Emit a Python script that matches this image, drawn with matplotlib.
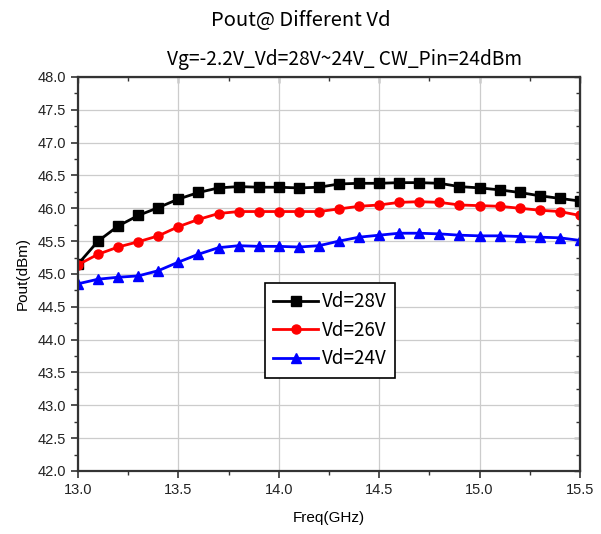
import numpy as np
import matplotlib.pyplot as plt
from matplotlib.ticker import MultipleLocator

freq = [13.0, 13.1, 13.2, 13.3, 13.4, 13.5, 13.6, 13.7, 13.8, 13.9, 14.0, 14.1, 14.2,
        14.3, 14.4, 14.5, 14.6, 14.7, 14.8, 14.9, 15.0, 15.1, 15.2, 15.3, 15.4, 15.5]

pout_28v = [45.15, 45.50, 45.73, 45.89, 46.01, 46.14, 46.24, 46.31, 46.33, 46.32, 46.32, 46.31, 46.32,
            46.37, 46.38, 46.38, 46.39, 46.39, 46.38, 46.33, 46.31, 46.28, 46.24, 46.19, 46.15, 46.11]
pout_26v = [45.14, 45.30, 45.41, 45.49, 45.58, 45.72, 45.83, 45.92, 45.95, 45.95, 45.95, 45.95, 45.95,
            45.99, 46.03, 46.05, 46.09, 46.10, 46.09, 46.05, 46.04, 46.03, 46.00, 45.97, 45.95, 45.89]
pout_24v = [44.85, 44.92, 44.95, 44.97, 45.05, 45.18, 45.30, 45.40, 45.43, 45.42, 45.42, 45.41, 45.43,
            45.50, 45.56, 45.59, 45.62, 45.62, 45.61, 45.59, 45.58, 45.58, 45.57, 45.56, 45.55, 45.51]

series = [
    ("Vd=28V", pout_28v, "black", "s"),
    ("Vd=26V", pout_26v, "red", "o"),
    ("Vd=24V", pout_24v, "blue", "^"),
]

cjk = ['Noto Sans CJK SC', 'DejaVu Sans']
plt.rcParams['font.family'] = ['Liberation Sans', 'DejaVu Sans']

fig = plt.figure(figsize=(6.01, 5.34), dpi=100)
ax = fig.add_axes([0.1298, 0.118, 0.8352, 0.738])

for name, vals, col, mk in series:
    ax.plot(freq, vals, color=col, marker=mk, markersize=6.5, linewidth=2, label=name)

ax.set_xlim(13.0, 15.5)
ax.set_ylim(42.0, 48.0)
ax.xaxis.set_major_locator(MultipleLocator(0.5))
ax.xaxis.set_minor_locator(MultipleLocator(0.25))
ax.yaxis.set_major_locator(MultipleLocator(0.5))
ax.yaxis.set_minor_locator(MultipleLocator(0.25))
ax.xaxis.set_major_formatter(lambda v, p: f"{v:.1f}")
ax.yaxis.set_major_formatter(lambda v, p: f"{v:.1f}")
ax.grid(True, which='major', color='#cccccc', linewidth=0.9)
ax.set_axisbelow(True)

for s in ax.spines.values():
    s.set_linewidth(1.6)
    s.set_color('#333333')

ax.tick_params(which='major', direction='out', length=5, width=1.2, labelsize=10.5, colors='#333333')
ax.tick_params(which='minor', direction='out', length=3, width=1.0, colors='#333333')
ax.tick_params(labelcolor='#222222')

top = ax.secondary_xaxis('top')
top.xaxis.set_major_locator(MultipleLocator(0.5))
top.xaxis.set_minor_locator(MultipleLocator(0.25))
top.tick_params(which='both', direction='in', labeltop=False, width=1.0, colors='#333333')
top.tick_params(which='major', length=4)
top.tick_params(which='minor', length=3)
right = ax.secondary_yaxis('right')
right.yaxis.set_major_locator(MultipleLocator(0.5))
right.yaxis.set_minor_locator(MultipleLocator(0.25))
right.tick_params(which='both', direction='in', labelright=False, width=1.0, colors='#333333')
right.tick_params(which='major', length=4)
right.tick_params(which='minor', length=3)

ax.set_xlabel("Freq(GHz)", fontsize=11, labelpad=10)
ax.set_ylabel("Pout(dBm)", fontsize=11, labelpad=6)

fig.text(0.5, 1 - 20 / 534, "Pout@ Different Vd", ha='center', va='center',
         fontsize=14.5, fontweight='light', family=cjk)
fig.text(0.574, 1 - 60 / 534, "Vg=-2.2V_Vd=28V~24V_ CW_Pin=24dBm", ha='center', va='center',
         fontsize=13.8, family=cjk)

leg = ax.legend(loc='upper left', bbox_to_anchor=(0.3725, 0.477), borderaxespad=0,
                fancybox=False, edgecolor='black', framealpha=1, handlelength=2.4,
                handletextpad=0.2, borderpad=0.45, labelspacing=0.4,
                prop={'family': cjk, 'size': 13.5})
leg.get_frame().set_linewidth(1.2)

fig.savefig("out.png", dpi=100)
